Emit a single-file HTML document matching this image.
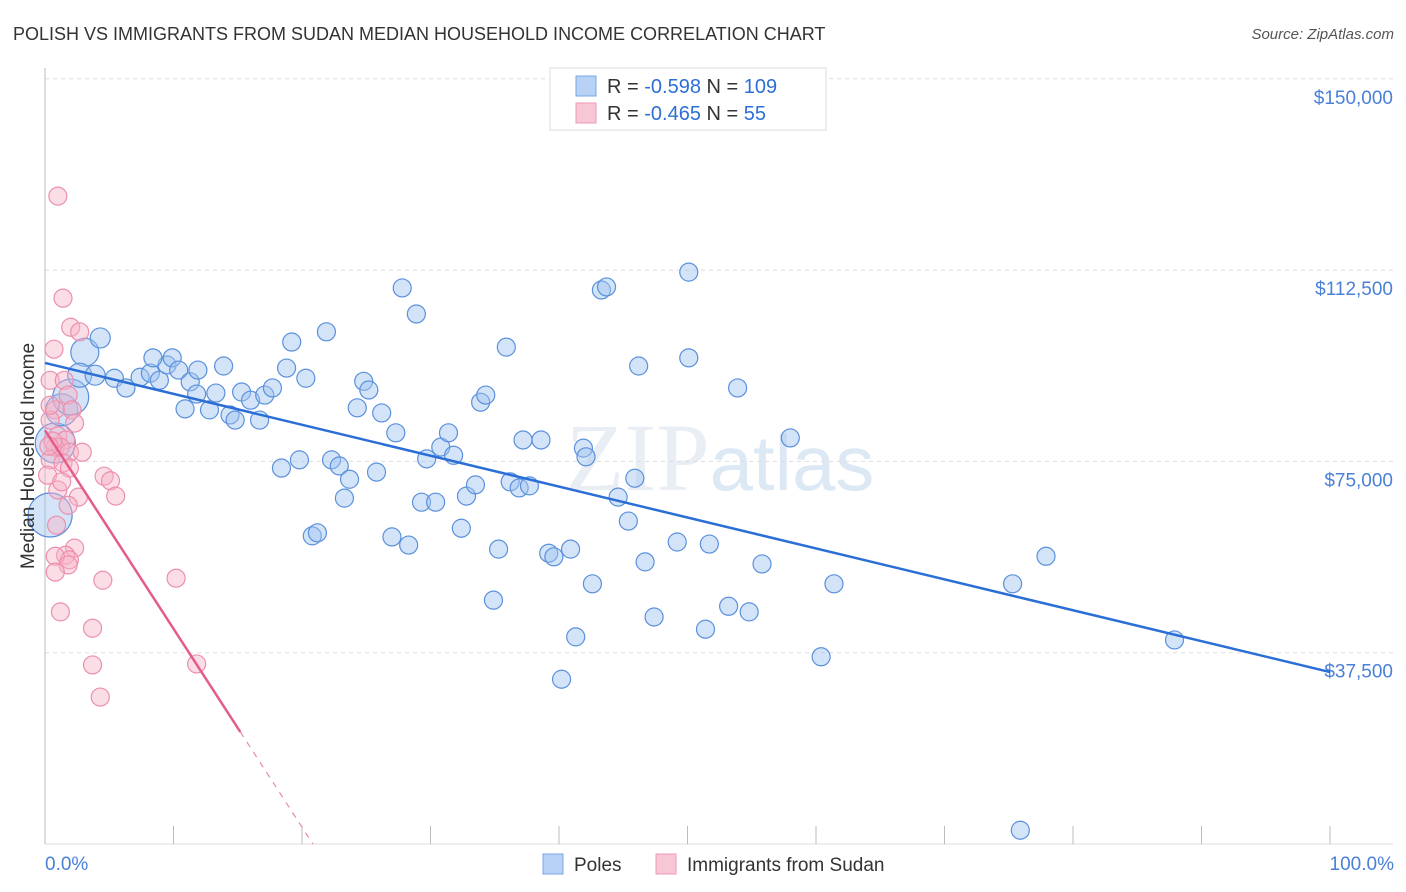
<!DOCTYPE html>
<html><head><meta charset="utf-8">
<style>
body{margin:0;background:#fff;font-family:"Liberation Sans",sans-serif;}
svg{display:block}
</style></head>
<body>
<svg id="chart" width="1406" height="892">
<text x="13" y="40" font-size="18" fill="#333">POLISH VS IMMIGRANTS FROM SUDAN MEDIAN HOUSEHOLD INCOME CORRELATION CHART</text>
<text x="1394" y="39" font-size="15" fill="#555" font-style="italic" text-anchor="end">Source: ZipAtlas.com</text>
<text x="720" y="490" font-size="96" fill="#e9eef4" text-anchor="middle" font-family="Liberation Serif">ZIP<tspan fill="#dde8f5" font-family="Liberation Sans" font-size="78">atlas</tspan></text>
<g id="grid"></g><g id="axes"></g><g id="pts"></g><g id="trend"></g>
<text transform="translate(34,456) rotate(-90)" font-size="19" fill="#333" text-anchor="middle">Median Household Income</text>
<text x="45" y="870" font-size="19" fill="#4a80d8">0.0%</text>
<text x="1394" y="870" font-size="19" fill="#4a80d8" text-anchor="end">100.0%</text>
<g>
<rect x="550" y="68" width="276" height="62" fill="#fff" stroke="#ddd"/>
<rect x="576" y="76" width="20" height="20" fill="#b8d2f5" stroke="#7aa6e6"/>
<text x="607" y="93" font-size="20" fill="#333">R = <tspan fill="#2c6fd6">-0.598</tspan>    N = <tspan fill="#2c6fd6">109</tspan></text>
<rect x="576" y="103" width="20" height="20" fill="#f8c7d6" stroke="#ee9ab5"/>
<text x="607" y="120" font-size="20" fill="#333">R = <tspan fill="#2c6fd6">-0.465</tspan>    N = <tspan fill="#2c6fd6">  55</tspan></text>
</g>
<g>
<rect x="543" y="854" width="20" height="20" fill="#b8d2f5" stroke="#7aa6e6"/>
<text x="574" y="871" font-size="19" fill="#333">Poles</text>
<rect x="656" y="854" width="20" height="20" fill="#f8c7d6" stroke="#ee9ab5"/>
<text x="687" y="871" font-size="19" fill="#333">Immigrants from Sudan</text>
</g>
</svg>
<script>
const yTicks=[37500,75000,112500,150000];
const yTickLabels=["$37,500","$75,000","$112,500","$150,000"];
const xTicks=[0,10,20,30,40,50,60,70,80,90,100];
const polesX=[0.4,0.8,1.3,2.0,3.1,4.3,2.7,3.9,5.4,6.3,7.4,8.2,8.9,9.5,8.4,9.9,10.4,11.3,11.9,10.9,12.8,11.8,13.3,13.9,14.4,14.8,15.3,16.0,16.7,17.1,17.7,18.8,19.2,20.3,18.4,19.8,20.8,21.2,21.9,22.3,22.9,23.3,23.7,24.3,24.8,25.2,25.8,26.2,27.0,27.3,27.8,28.3,28.9,29.3,29.7,30.4,30.8,31.4,31.8,32.4,32.8,33.5,33.9,34.3,34.9,35.3,35.9,36.2,36.9,37.2,37.7,38.6,39.2,39.6,40.2,40.9,41.3,41.9,42.1,42.6,43.3,43.7,44.6,45.4,45.9,46.2,46.7,47.4,49.2,50.1,50.1,51.4,51.7,53.2,53.9,54.8,55.8,58.0,60.4,61.4,75.3,75.9,77.9,87.9];
const polesY=[64.5,78.6,85.1,87.6,96.4,99.2,91.9,91.9,91.3,89.4,91.5,92.3,90.9,93.9,95.3,95.3,92.9,90.6,92.9,85.3,85.1,88.2,88.4,93.7,84.1,83.1,88.6,87.0,83.1,88.0,89.4,93.3,98.4,91.3,73.7,75.3,60.4,61.0,100.4,75.3,74.1,67.8,71.5,85.5,90.7,89.0,72.9,84.5,60.2,80.6,109.0,58.6,103.9,67.0,75.5,67.0,77.8,80.6,76.2,61.9,68.2,70.4,86.6,88.0,47.8,57.8,97.4,71.0,69.8,79.2,70.2,79.2,57.0,56.3,32.3,57.8,40.6,77.6,75.9,51.0,108.6,109.2,68.0,63.3,71.7,93.7,55.3,44.5,59.2,112.1,95.3,42.1,58.8,46.6,89.4,45.5,54.9,79.6,36.7,51.0,51.0,2.7,56.4,40.0];
const polesSize=[22,20,16,18,14,10,12,10,9,9,9,9,9,9,9,9,9,9,9,9,9,9,9,9,9,9,9,9,9,9,9,9,9,9,9,9,9,9,9,9,9,9,9,9,9,9,9,9,9,9,9,9,9,9,9,9,9,9,9,9,9,9,9,9,9,9,9,9,9,9,9,9,9,9,9,9,9,9,9,9,9,9,9,9,9,9,9,9,9,9,9,9,9,9,9,9,9,9,9,9,9,9,9,9];
const sudanX=[1.0,1.4,2.0,2.7,0.7,0.4,1.5,1.8,2.1,0.8,0.4,1.0,1.6,0.8,1.2,1.9,2.9,0.4,1.4,1.9,0.2,4.6,5.1,1.0,2.6,5.5,1.8,0.9,2.3,1.6,1.9,0.8,1.8,0.8,4.5,10.2,1.2,3.7,3.7,11.8,4.3,0.4,0.6,2.3,1.3,0.3];
const sudanY=[127.0,107.0,101.3,100.4,97.0,90.9,90.9,88.0,85.1,85.1,83.1,80.0,79.2,77.8,77.8,76.8,76.8,75.3,74.7,73.7,72.3,72.1,71.2,69.4,68.0,68.2,66.4,62.5,58.0,56.6,55.7,56.4,54.7,53.3,51.7,52.1,45.5,42.3,35.1,35.3,28.8,86.0,79.0,82.5,71.0,78.0];
const polesFit=[94.3,33.7];
const sudanFitStart=81.1, sudanFitSlope=-3.89, sudanSolidEnd=15.2;

const X0=45,X1=1330,Y0=844,PXK=191.3/37.5;
const sx=v=>X0+(X1-X0)*v/100;
const sy=v=>Y0-v*PXK;
const NS="http://www.w3.org/2000/svg";
function mk(tag,parent){const e=document.createElementNS(NS,tag);document.getElementById(parent).appendChild(e);return e;}
yTicks.forEach((t,i)=>{
 const l=mk('line','grid');
 
 
 l.setAttribute('x1',X0);l.setAttribute('x2',1393);l.setAttribute('y1',sy(t/1000));l.setAttribute('y2',sy(t/1000));
 l.setAttribute('stroke','#ddd');l.setAttribute('stroke-dasharray','4,4');
 const tx=mk('text','grid');
 
 
 tx.setAttribute('x',1393);tx.setAttribute('y',sy(t/1000)+25);tx.setAttribute('text-anchor','end');
 tx.setAttribute('font-size','19');tx.setAttribute('fill','#4a80d8');tx.textContent=yTickLabels[i];
});
const ya=mk('line','axes');


ya.setAttribute('x1',X0);ya.setAttribute('x2',X0);ya.setAttribute('y1',68);ya.setAttribute('y2',Y0);ya.setAttribute('stroke','#bbb');
const xa=mk('line','axes');


xa.setAttribute('x1',X0);xa.setAttribute('x2',1393);xa.setAttribute('y1',Y0);xa.setAttribute('y2',Y0);xa.setAttribute('stroke','#ddd');
xTicks.forEach(t=>{
 const l=mk('line','axes');
 
 
 l.setAttribute('x1',sx(t));l.setAttribute('x2',sx(t));l.setAttribute('y1',826);l.setAttribute('y2',Y0);l.setAttribute('stroke','#bbb');
});
polesX.forEach((x,i)=>{
 const c=mk('circle','pts');
 
 
 c.setAttribute('cx',sx(x));c.setAttribute('cy',sy(polesY[i]));c.setAttribute('r',polesSize[i]||9);
 c.setAttribute('fill','rgba(160,195,240,0.45)');c.setAttribute('stroke','#5a90dc');c.setAttribute('stroke-width','1.2');
});
sudanX.forEach((x,i)=>{
 const c=mk('circle','pts');
 
 
 c.setAttribute('cx',sx(x));c.setAttribute('cy',sy(sudanY[i]));c.setAttribute('r',9);
 c.setAttribute('fill','rgba(246,180,200,0.45)');c.setAttribute('stroke','#ec8fae');c.setAttribute('stroke-width','1.2');
});
const bl=mk('line','trend');


bl.setAttribute('x1',sx(0));bl.setAttribute('y1',sy(polesFit[0]));bl.setAttribute('x2',sx(100));bl.setAttribute('y2',sy(polesFit[1]));
bl.setAttribute('stroke','#2b6fd6');bl.setAttribute('stroke-width','2.5');
const endY=sudanFitStart+sudanFitSlope*sudanSolidEnd;
const zeroX=-sudanFitStart/sudanFitSlope;
const pl=mk('line','trend');


pl.setAttribute('x1',sx(0));pl.setAttribute('y1',sy(sudanFitStart));pl.setAttribute('x2',sx(sudanSolidEnd));pl.setAttribute('y2',sy(endY));
pl.setAttribute('stroke','#e35d8a');pl.setAttribute('stroke-width','2.5');
const pd=mk('line','trend');


pd.setAttribute('x1',sx(sudanSolidEnd));pd.setAttribute('y1',sy(endY));pd.setAttribute('x2',sx(zeroX));pd.setAttribute('y2',sy(0));
pd.setAttribute('stroke','#e88aa8');pd.setAttribute('stroke-width','1.2');pd.setAttribute('stroke-dasharray','6,6');
</script>
</body></html>
